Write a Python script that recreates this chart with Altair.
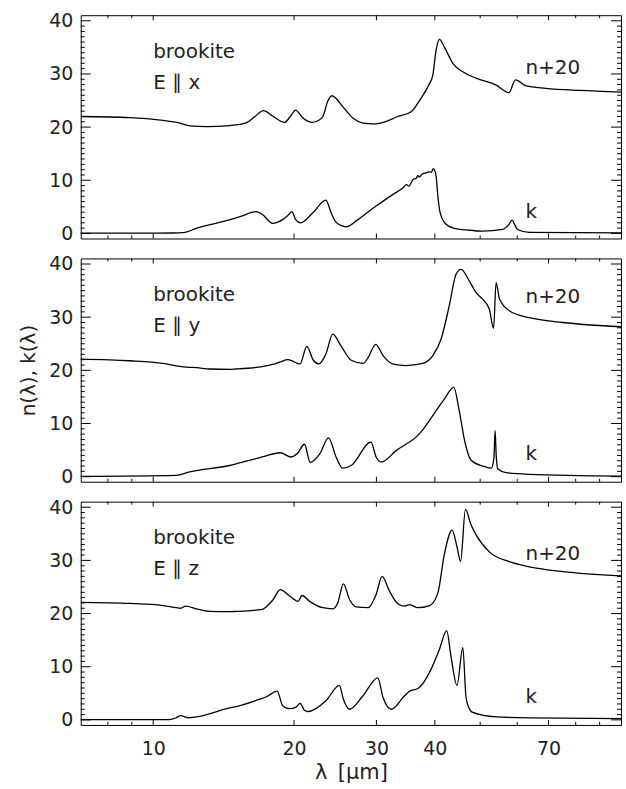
import altair as alt
import pandas as pd

# Wavelength range (micron) and common y range of the three panels
LAM_RANGE = [7, 100]
Y_RANGE = [-0.95, 41.05]

# Axis tick positions
X_LABELS = [10, 20, 30, 40, 70]
X_MINOR = [8, 9, 50, 60, 80, 90]
Y_LABELS = [0, 10, 20, 30, 40]
Y_MINOR = [v for v in range(1, 41) if v % 10]

# ---- E || x ----
x_n_lam = [7.0, 8.9, 10.5, 11.4, 12.0, 13.0, 14.6, 15.8, 16.5, 17.2, 18.0, 19.1, 19.6, 20.15,
           20.9, 21.8, 22.5, 23.05, 23.6, 24.1, 25.4, 26.7, 28.1, 29.5, 31.5, 33.1, 35.6, 37.1,
           38.8, 39.6, 40.25, 40.9, 41.9, 43.7, 45.9, 49.0, 54.1, 57.6, 59.5, 62.7, 69.0, 81.5, 100]
x_n_val = [22.0, 21.8, 21.25, 20.75, 20.25, 20.1, 20.3, 20.8, 22.0, 23.1, 22.1, 20.9, 21.9, 23.2,
           21.7, 20.9, 21.2, 22.0, 24.8, 25.9, 23.9, 21.7, 20.75, 20.6, 21.1, 21.9, 22.9, 25.0,
           27.9, 29.8, 34.5, 36.5, 35.1, 32.0, 30.4, 29.2, 27.9, 26.5, 28.9, 27.75, 27.3, 26.9, 26.6]
x_k_lam = [7.0, 9.0, 11.0, 11.6, 12.4, 14.6, 15.5, 16.3, 16.6, 17.1, 18.0, 18.9, 19.3, 19.8,
           20.16, 20.66, 21.95, 23.4, 24.0, 24.6, 25.9, 27.4, 29.9, 32.5, 34.2, 34.8, 35.2, 35.9,
           36.5, 36.8, 37.1, 37.5, 38.3, 39.0, 39.3, 39.7, 40.0, 40.25, 40.6, 41.05, 41.9, 43.7,
           47.4, 50.6, 55.8, 57.5, 58.5, 59.3, 60.1, 63.7, 100]
x_k_val = [0.05, 0.05, 0.08, 0.15, 1.0, 2.6, 3.3, 4.0, 4.1, 3.6, 1.9, 2.6, 3.2, 4.1,
           2.6, 2.0, 3.9, 6.25, 3.9, 2.1, 1.25, 2.6, 5.1, 7.3, 8.6, 9.2, 8.9, 10.1,
           10.4, 10.9, 10.6, 11.1, 11.4, 11.6, 11.5, 12.2, 11.8, 10.8, 7.0, 3.9, 2.1, 1.06,
           0.6, 0.44, 0.75, 1.6, 2.5, 1.6, 0.75, 0.2, 0.12]

# ---- E || y ----
y_n_lam = [7.0, 8.9, 10.5, 11.4, 11.8, 12.4, 13.2, 14.6, 15.0, 17.1, 18.0, 18.7, 19.4, 19.9,
           20.6, 21.3, 22.0, 22.6, 23.4, 24.2, 25.2, 26.5, 28.1, 28.8, 29.9, 31.0, 32.5, 34.7,
           37.7, 39.6, 41.25, 43.0, 44.4, 45.5, 47.4, 49.0, 50.6, 52.3, 53.4, 54.07, 55.0, 57.7,
           63.7, 75.1, 100]
y_n_val = [22.1, 21.8, 21.3, 20.75, 20.6, 20.5, 20.25, 20.2, 20.25, 20.7, 21.1, 21.6, 22.0, 21.7,
           21.2, 24.5, 21.9, 21.2, 23.1, 26.8, 24.6, 21.9, 21.3, 22.4, 24.9, 22.75, 21.2, 20.9,
           21.3, 22.75, 25.9, 32.4, 38.1, 39.0, 36.8, 34.6, 33.4, 31.5, 27.9, 36.5, 33.4, 31.2,
           29.9, 29.0, 28.2]
y_k_lam = [7.0, 11.2, 11.96, 14.56, 15.04, 16.6, 17.1, 18.7, 19.7, 20.3, 21.06, 21.65, 22.7,
           23.7, 24.6, 25.4, 26.5, 29.2, 29.96, 30.7, 33.06, 37.1, 40.25, 41.9, 43.9, 45.1, 46.3,
           47.8, 50.6, 52.8, 53.5, 53.8, 54.1, 54.5, 56.8, 63.7, 100]
y_k_val = [0.06, 0.25, 0.9, 2.1, 2.4, 3.4, 3.7, 4.5, 3.7, 4.3, 6.1, 2.7, 4.3,
           7.3, 3.7, 1.6, 2.1, 6.5, 3.7, 2.75, 4.9, 8.1, 12.4, 14.6, 16.8, 12.4, 6.8,
           3.1, 2.0, 1.6, 3.5, 8.7, 4.0, 1.5, 0.75, 0.44, 0.12]

# ---- E || z ----
z_n_lam = [7.0, 8.9, 10.5, 11.2, 11.44, 11.73, 12.36, 13.2, 14.56, 15.04, 17.1, 17.4, 18.0,
           18.7, 19.56, 20.4, 20.8, 21.6, 23.05, 24.2, 24.8, 25.5, 26.3, 27.15, 28.8, 29.96,
           30.85, 32.0, 33.3, 34.4, 35.3, 36.8, 38.95, 40.6, 41.9, 43.55, 44.6, 45.4, 46.5,
           47.8, 49.0, 52.3, 57.7, 63.7, 75.1, 100]
z_n_val = [22.1, 21.9, 21.5, 21.1, 21.0, 21.4, 20.9, 20.4, 20.35, 20.4, 20.8, 21.2, 22.5,
           24.5, 23.3, 22.3, 23.4, 22.3, 21.1, 20.9, 22.0, 25.6, 22.6, 21.25, 21.1, 23.6,
           27.0, 24.2, 21.9, 21.4, 21.7, 21.1, 21.5, 23.9, 31.1, 35.7, 32.6, 29.8, 39.6,
           36.7, 34.8, 31.6, 29.75, 28.8, 27.9, 27.1]
z_k_lam = [7.0, 10.8, 11.2, 11.44, 11.86, 12.36, 14.56, 15.04, 16.9, 17.5, 18.4, 18.93, 19.56,
           20.2, 20.6, 21.06, 21.4, 23.4, 25.0, 25.5, 26.3, 28.06, 30.2, 31.0, 32.3, 34.2, 35.3,
           36.8, 38.95, 40.9, 42.4, 43.3, 44.6, 45.9, 46.6, 47.0, 48.2, 54.1, 63.7, 100]
z_k_val = [0.06, 0.06, 0.4, 0.8, 0.4, 0.56, 2.25, 2.5, 3.9, 4.4, 5.4, 2.6, 2.1,
           2.4, 3.1, 1.8, 1.56, 3.6, 6.5, 3.9, 2.0, 4.5, 7.9, 4.2, 2.0, 4.2, 5.4,
           5.9, 8.9, 13.25, 16.8, 12.0, 6.5, 13.6, 4.5, 2.9, 1.4, 0.56, 0.37, 0.25]

# Annotation positions (wavelength, value) per panel
PANEL_TITLES = ["E ∥ x", "E ∥ y", "E ∥ z"]
N_LABEL_Y = [30.0, 32.6, 30.1]
K_LABEL_Y = [2.9, 3.1, 3.2]

W, H = 542, 224
FONT = "DejaVu Sans"
INK = "#222222"

xs = alt.Scale(type="log", domain=LAM_RANGE, nice=False)
ys = alt.Scale(domain=Y_RANGE, nice=False, zero=False)


def panel(n_lam, n_val, k_lam, k_val, title, n_lab, k_lab, show_x, y_title):
    curves = pd.DataFrame({
        "lam": n_lam + k_lam,
        "val": n_val + k_val,
        "curve": ["n+20"] * len(n_lam) + ["k"] * len(k_lam),
    })
    labels = pd.DataFrame({
        "lam": [10, 10, 62.5, 62.5],
        "val": [33.0, 27.2, n_lab, k_lab],
        "label": ["brookite", title, "n+20", "k"],
    })

    if show_x:
        x_axis = alt.Axis(values=X_LABELS, format="d", ticks=False, tickSize=0, domain=False,
                          grid=False, labelFontSize=19, labelPadding=15, labelFlush=False,
                          title="λ\u2002[μm]", titleFontSize=21, titleFontWeight="normal",
                          titlePadding=3)
        x_enc = alt.X("lam:Q", scale=xs, axis=x_axis)
    else:
        x_enc = alt.X("lam:Q", scale=xs, axis=None)

    y_kw = dict(values=Y_LABELS, ticks=False, tickSize=0, domain=False, grid=False,
                labelFontSize=19, labelPadding=8)
    if y_title:
        y_axis = alt.Axis(title=y_title, titleFontSize=20, titleFontWeight="normal",
                          titlePadding=10, **y_kw)
    else:
        y_axis = alt.Axis(title=None, **y_kw)
    y_enc = alt.Y("val:Q", scale=ys, axis=y_axis)

    lines = alt.Chart(curves).mark_line(
        color="black", strokeWidth=1.3, interpolate="monotone"
    ).encode(x=x_enc, y=y_enc, detail="curve:N")

    text = alt.Chart(labels).mark_text(
        align="left", baseline="alphabetic", font=FONT, fontSize=20, color=INK
    ).encode(x=x_enc, y=y_enc, text="label:N")

    def yticks(vals, length):
        df = pd.DataFrame({"val": vals})
        left = alt.Chart(df).mark_rule(color="black", strokeWidth=1).encode(
            y=y_enc, x=alt.value(0), x2=alt.value(length))
        right = alt.Chart(df).mark_rule(color="black", strokeWidth=1).encode(
            y=y_enc, x=alt.value(W), x2=alt.value(W - length))
        return [left, right]

    def xticks(vals, length):
        df = pd.DataFrame({"lam": vals})
        bottom = alt.Chart(df).mark_rule(color="black", strokeWidth=1).encode(
            x=x_enc, y=alt.value(H), y2=alt.value(H - length))
        top = alt.Chart(df).mark_rule(color="black", strokeWidth=1).encode(
            x=x_enc, y=alt.value(0), y2=alt.value(length))
        return [bottom, top]

    layers = [lines, text] + yticks(Y_LABELS, 10) + yticks(Y_MINOR, 4) \
        + xticks(X_LABELS, 5) + xticks(X_MINOR, 3)
    return alt.layer(*layers).properties(width=W, height=H)


p1 = panel(x_n_lam, x_n_val, x_k_lam, x_k_val, PANEL_TITLES[0], N_LABEL_Y[0], K_LABEL_Y[0],
           False, None)
p2 = panel(y_n_lam, y_n_val, y_k_lam, y_k_val, PANEL_TITLES[1], N_LABEL_Y[1], K_LABEL_Y[1],
           False, "n(λ), k(λ)")
p3 = panel(z_n_lam, z_n_val, z_k_lam, z_k_val, PANEL_TITLES[2], N_LABEL_Y[2], K_LABEL_Y[2],
           True, None)

chart = alt.vconcat(p1, p2, p3, spacing=20, bounds="flush").properties(
    padding={"left": 18, "top": 10, "right": 1, "bottom": 2},
    background="white",
).configure_view(
    stroke="black", strokeWidth=1
).configure_axis(
    labelFont=FONT, titleFont=FONT, labelColor=INK, titleColor=INK
)

chart.save("out.html", embed_options={"renderer": "svg", "actions": False})
